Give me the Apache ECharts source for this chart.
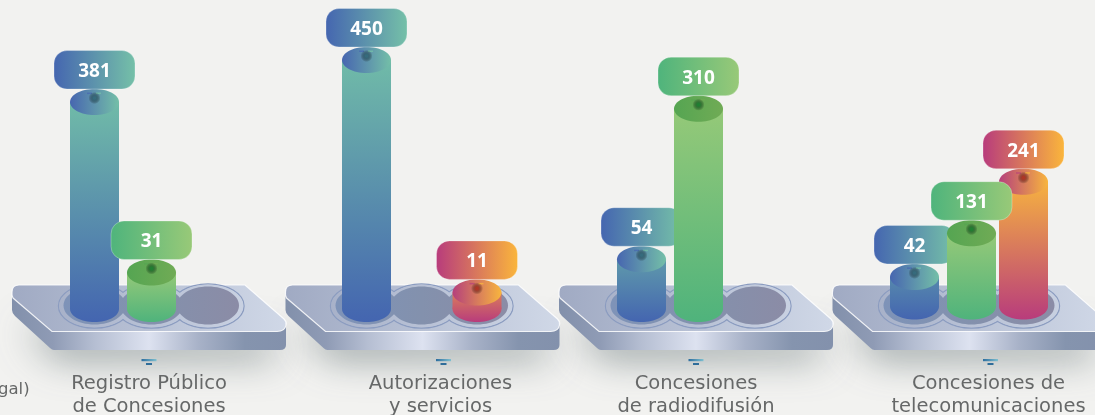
<!DOCTYPE html>
<html>
<head>
    <meta charset="utf-8"/>
    <title>Concesiones</title>
    <script src="https://cdn.jsdelivr.net/npm/echarts@6/dist/echarts.min.js"></script>
    <style>
        html, body { margin: 0; padding: 0; background: #f2f2f0; overflow: hidden; }
    </style>
</head>
<body>
<div id="main" style="width: 1095px;height:415px;"></div>
<script type="text/javascript">
    var categories = ['Registro Público\nde Concesiones', 'Autorizaciones\ny servicios', 'Concesiones\nde radiodifusión', 'Concesiones de\ntelecomunicaciones'];

    // numbers printed in the bubbles
    var blueValues = [381, 450, 54, 42];
    var greenValues = [31, null, 310, 131];
    var pinkValues = [null, 11, null, 241];

    // the source graphic is not drawn to scale (31 stands taller than 42, 310 nearly as tall as 381),
    // so the bar tops are read off the picture on the hidden 0-450 axis, apart from the printed numbers
    var blueLevels = [374, 450, 90, 58];
    var greenLevels = [66, null, 362, 137];
    var pinkLevels = [null, 30, null, 230];

    var axisMax = 450;

    // pixel layout of the slots on each plate, from the plate centre
    var slotOffsets = [[-54.5, 2.5, 59], [-56, -1, 54.5], [-54.5, 2.5, 59], [-55, 2, 54]];
    var barLift = [0, 0, 0, 2.5];
    var labelShift = [0, 18, 0, 19];
    var iconShift = [0, 21, 0, 21];
    var capRx = 24.5, capRy = 13;

    var palette = [
        {body: ['#70bba8', '#4465b0'], cap: ['#4766b0', '#74bfa8'], bubble: ['#4566b0', '#75c0a8'], dot: '#2f6474', span: 90},
        {body: ['#95c978', '#4fb37c'], cap: ['#55a552', '#70ab55'], bubble: ['#4fb47c', '#98c978'], dot: '#14782c', span: 30},
        {body: ['#f6b240', '#b83c7c'], cap: ['#b5407c', '#f8b53e'], bubble: ['#b83c7c', '#fab53c'], dot: '#a82a1c', span: 40}
    ];

    function hGrad(x0, x1, stops) {
        return {type: 'linear', x: x0, y: 0, x2: x1, y2: 0, global: true, colorStops: stops};
    }
    function vGrad(y0, y1, c0, c1) {
        return {type: 'linear', x: 0, y: y0, x2: 0, y2: y1, global: true, colorStops: [{offset: 0, color: c0}, {offset: 1, color: c1}]};
    }
    function two(c) {
        return [{offset: 0, color: c[0]}, {offset: 1, color: c[1]}];
    }
    function ellipse(cx, cy, rx, ry, style) {
        return {type: 'ellipse', shape: {cx: cx, cy: cy, rx: rx, ry: ry}, style: style};
    }

    // cylinder with its bubble, one renderItem for the three colours
    function barRenderer(slot, values) {
        return function (params, api) {
            var i = api.value(0);
            var level = api.value(1);
            if (isNaN(level)) return null;
            var col = palette[slot];
            var cx = api.coord([i, 0])[0] + slotOffsets[i][slot];
            var bottom = api.coord([i, 0])[1] - barLift[i];
            var top = api.coord([i, level])[1];
            var gradTop = Math.min(top, bottom - col.span);
            var bodyFill = vGrad(gradTop, bottom + capRy, col.body[0], col.body[1]);
            var capFill = hGrad(cx - capRx, cx + capRx, two(col.cap));
            var bx = cx - 40.5, by = top - capRy - 38.5;
            return {
                type: 'group',
                children: [
                    {type: 'rect', shape: {x: cx - capRx, y: top, width: capRx * 2, height: bottom - top}, style: {fill: bodyFill}},
                    ellipse(cx, bottom, capRx, capRy, {fill: bodyFill}),
                    ellipse(cx, top, capRx, capRy, {fill: capFill}),
                    {type: 'rect', shape: {x: cx - 7.5, y: top - 9.5, width: 5, height: 1.5}, style: {fill: col.cap[0], opacity: 0.7}},
                    {type: 'rect', shape: {x: cx + 1.5, y: top - 9.5, width: 5, height: 1.5}, style: {fill: col.cap[1], opacity: 0.8}},
                    ellipse(cx, top - 4, 7, 6, {
                        opacity: 0.85,
                        fill: {type: 'radial', x: 0.5, y: 0.5, r: 0.5, colorStops: [
                            {offset: 0, color: col.dot},
                            {offset: 0.2, color: col.dot},
                            {offset: 1, color: 'rgba(0,0,0,0)'}
                        ]}
                    }),
                    {type: 'rect', shape: {x: bx, y: by, width: 81, height: 38.5, r: 13},
                        style: {fill: hGrad(bx, bx + 81, two(col.bubble)), stroke: 'rgba(255,255,255,0.35)', lineWidth: 0.8}},
                    {type: 'text', style: {text: String(values[i]), x: cx, y: by + 21, fill: '#fff',
                        font: '700 19px "Open Sans"', align: 'center', verticalAlign: 'middle'}}
                ]
            };
        };
    }

    function topFacePath(cx) {
        return 'M' + (cx - 130) + ' 285L' + (cx + 96) + ' 285L' + (cx + 135) + ' 319Q' + (cx + 138) + ' 322 ' + (cx + 137) + ' 325Q' + (cx + 136) + ' 331.5 ' + (cx + 128) + ' 331.5'
            + 'L' + (cx - 97) + ' 331.5L' + (cx - 136) + ' 298Q' + (cx - 137.5) + ' 296 ' + (cx - 137) + ' 292Q' + (cx - 137) + ' 285 ' + (cx - 130) + ' 285Z';
    }
    function sidePath(cx) {
        return 'M' + (cx - 137) + ' 294L' + (cx - 97) + ' 331L' + (cx + 137) + ' 322L' + (cx + 137) + ' 345Q' + (cx + 137) + ' 350 ' + (cx + 131) + ' 350'
            + 'L' + (cx - 95) + ' 350Q' + (cx - 97) + ' 350 ' + (cx - 99) + ' 348L' + (cx - 134) + ' 316Q' + (cx - 137) + ' 313 ' + (cx - 137) + ' 310Z';
    }

    function renderShadow(params, api) {
        var cx = api.coord([api.value(0), 0])[0];
        return {type: 'path', shape: {pathData: 'M' + (cx - 125) + ' 315L' + (cx - 90) + ' 345L' + (cx + 125) + ' 345L' + (cx + 125) + ' 325Z'},
            style: {fill: '#8a9aa0', shadowColor: 'rgba(105,120,122,0.7)', shadowBlur: 36, shadowOffsetY: 14}};
    }

    function renderPlate(params, api) {
        var i = api.value(0);
        var cx = api.coord([i, 0])[0];
        var faceFill = hGrad(cx - 137, cx + 137, [{offset: 0, color: '#a0aac3'}, {offset: 1, color: '#d0d8e7'}]);
        var children = [
            {type: 'path', shape: {pathData: sidePath(cx)}, style: {fill: hGrad(cx - 137, cx + 137, [
                {offset: 0, color: '#8290ab'}, {offset: 0.15, color: '#8f9bb5'}, {offset: 0.3, color: '#b5bed2'},
                {offset: 0.5, color: '#dde2f0'}, {offset: 0.68, color: '#a8b2c8'}, {offset: 0.85, color: '#8594ae'}, {offset: 1, color: '#8391ac'}
            ])}},
            {type: 'path', shape: {pathData: topFacePath(cx)}, style: {fill: faceFill, stroke: 'rgba(255,255,255,0.85)', lineWidth: 1.2}}
        ];
        var slots = slotOffsets[i];
        var k;
        for (k = 0; k < 3; k++) children.push(ellipse(cx + slots[k], 306, 36, 22, {fill: 'none', stroke: '#8b9cc0', lineWidth: 1.4}));
        for (k = 0; k < 3; k++) children.push(ellipse(cx + slots[k], 306, 35.4, 21.4, {fill: faceFill}));
        var wellFill = hGrad(cx + slots[0] - 30, cx + slots[2] + 30, [{offset: 0, color: '#7e93b8'}, {offset: 0.5, color: '#8391ad'}, {offset: 1, color: '#8b8ca6'}]);
        for (k = 0; k < 3; k++) children.push(ellipse(cx + slots[k], 305.5, 31, 19, {fill: wellFill}));
        return {type: 'group', children: children};
    }

    function renderCaption(params, api) {
        var i = api.value(0);
        var cx = api.coord([i, 0])[0];
        var ix = cx + iconShift[i];
        return {
            type: 'group',
            children: [
                {type: 'rect', shape: {x: ix - 7.5, y: 359, width: 15, height: 2.2}, style: {fill: hGrad(ix - 7.5, ix + 7.5, [{offset: 0, color: '#2c6d9e'}, {offset: 1, color: '#7fc0d0'}])}},
                {type: 'rect', shape: {x: ix - 3, y: 363, width: 6, height: 2}, style: {fill: '#2f6d9a'}},
                {type: 'text', style: {text: categories[i], x: cx + labelShift[i], y: 395.5, fill: '#666868',
                    font: '19.5px "DejaVu Sans"', lineHeight: 23, align: 'center', verticalAlign: 'middle'}}
            ]
        };
    }

    function barSeries(name, slot, levels, values) {
        return {
            name: name,
            type: 'custom',
            silent: true,
            renderItem: barRenderer(slot, values),
            encode: {x: 0, y: 1},
            data: levels.map(function (v, i) { return [i, v === null ? '-' : v]; })
        };
    }

    var groupIndex = categories.map(function (c, i) { return [i, 0]; });

    var myChart = echarts.init(document.getElementById('main'));
    var option = {
        backgroundColor: '#f2f2f0',
        animation: false,
        grid: {left: 12.25, width: 1094, top: 60, height: 249, outerBoundsMode: 'none'},
        xAxis: {type: 'category', data: categories, show: false},
        yAxis: {type: 'value', min: 0, max: axisMax, show: false},
        graphic: [
            {type: 'text', left: -2, top: 381, style: {text: 'gal)', fill: '#666868', font: '16.5px "DejaVu Sans"'}}
        ],
        series: [
            {type: 'custom', silent: true, renderItem: renderShadow, encode: {x: 0, y: 1}, data: groupIndex},
            {type: 'custom', silent: true, renderItem: renderPlate, encode: {x: 0, y: 1}, data: groupIndex},
            // draw order matters: the middle slot's bar sits over the neighbouring bubbles
            barSeries('pink', 2, pinkLevels, pinkValues),
            barSeries('blue', 0, blueLevels, blueValues),
            barSeries('green', 1, greenLevels, greenValues),
            {type: 'custom', silent: true, renderItem: renderCaption, encode: {x: 0, y: 1}, data: groupIndex}
        ]
    };
    myChart.setOption(option);
</script>
</body>
</html>
